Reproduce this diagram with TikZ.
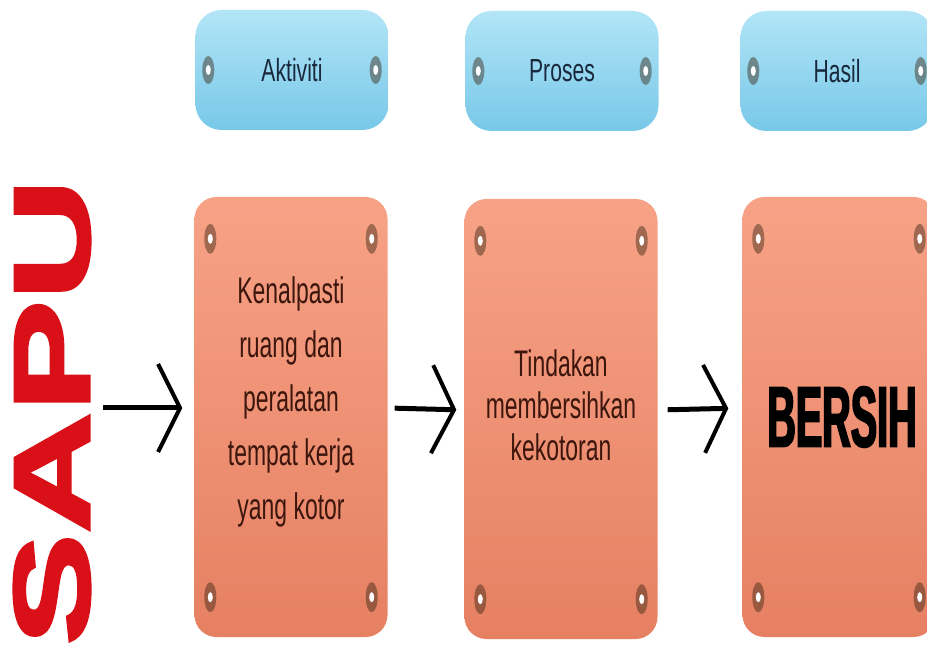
\documentclass[tikz,border=0pt]{standalone}
\usepackage{fontspec}
\usetikzlibrary{arrows.meta,positioning}
\newfontfamily\boxfont[FakeStretch=0.62]{Liberation Sans}
\newfontfamily\headfont[FakeStretch=0.66]{Liberation Sans}
\newfontfamily\bersihfont[FakeStretch=0.46,FakeBold=2]{Liberation Sans Bold}
\newfontfamily\sapufont[FakeStretch=1.12,FakeBold=2.5]{Liberation Sans Bold}
\definecolor{skyA}{RGB}{178,229,247}
\definecolor{skyB}{RGB}{120,200,232}
\definecolor{salmonA}{RGB}{247,162,134}
\definecolor{salmonB}{RGB}{230,128,98}
\definecolor{sapured}{RGB}{218,16,24}
\definecolor{headtext}{RGB}{25,40,60}
\definecolor{paneltext}{RGB}{60,22,12}
\tikzset{
	head/.style={rounded corners=26pt, minimum width=193pt, minimum height=120pt, top color=skyA, bottom color=skyB, text=headtext, font=\headfont\fontsize{32}{36}\selectfont},
	panel/.style={rounded corners=22pt, minimum width=193pt, minimum height=440pt, top color=salmonA, bottom color=salmonB},
	words/.style={align=center, text=paneltext, font=\boxfont\fontsize{37}{#1}\selectfont},
	flow/.style={line width=5pt, -{Straight Barb[length=22pt,width=88pt,line width=4pt]}, shorten <=10pt, shorten >=10pt},
	hole/.style={fill=black!70!brown, opacity=.45}
}
\begin{document}
\begin{tikzpicture}[x=1pt, y=-1pt]
\useasboundingbox (0,0) rectangle (927,660);
\clip (0,0) rectangle (927,660);
\fill[white] (0,0) rectangle (927,660);
\node[head] (h1) at (292,70) {Aktiviti};
\node[head] (h2) at (562,71) {Proses};
\node[head] (h3) at (837,71) {Hasil};
\node[panel] (p1) at (291,417) {};
\node[panel] (p2) at (561,419) {};
\node[panel] (p3) at (839,417) {};
\foreach \b in {h1,h2,h3}
{
	\foreach \dx/\a in {13/west, -13/east}
	{
		\fill[hole] ([xshift=\dx pt]\b.\a) ellipse (6pt and 14pt);
		\fill[white] ([xshift=\dx pt]\b.\a) ellipse (2.5pt and 5pt);
	}
}
\foreach \b in {p1,p2,p3}
{
	\foreach \dx/\dy/\a in {16/-42/north west, -16/-42/north east, 16/40/south west, -16/40/south east}
	{
		\fill[hole] ([xshift=\dx pt, yshift=\dy pt]\b.\a) ellipse (6pt and 15pt);
		\fill[white] ([xshift=\dx pt, yshift=\dy pt]\b.\a) ellipse (2.5pt and 5pt);
	}
}
\node[words=54] (t1) at ([yshift=15pt]p1.center) {Kenalpasti\\ruang dan\\peralatan\\tempat kerja\\yang kotor};
\node[words=42] (t2) at ([yshift=14pt]p2.center) {Tindakan\\membersihkan\\kekotoran};
\node[font=\bersihfont\fontsize{86}{92}\selectfont] (t3) at (842,417) {BERSIH};
\node[rotate=90, inner sep=0pt, text=sapured, font=\sapufont\fontsize{150}{150}\selectfont] (sapu) at (52,412) {\scalebox{1}[0.72]{SAPU}};
\coordinate (a1) at ([yshift=9pt]p1.west);
\draw[flow, shorten <=13pt, shorten >=12pt] (sapu.south |- a1) -- (a1);
\draw[flow, shorten <=7pt, shorten >=8pt] ([yshift=9pt]p1.east) -- ([yshift=9pt]p2.west);
\draw[flow, shorten >=14pt] ([yshift=9pt]p2.east) -- ([yshift=9pt]p3.west);
\end{tikzpicture}
\end{document}
